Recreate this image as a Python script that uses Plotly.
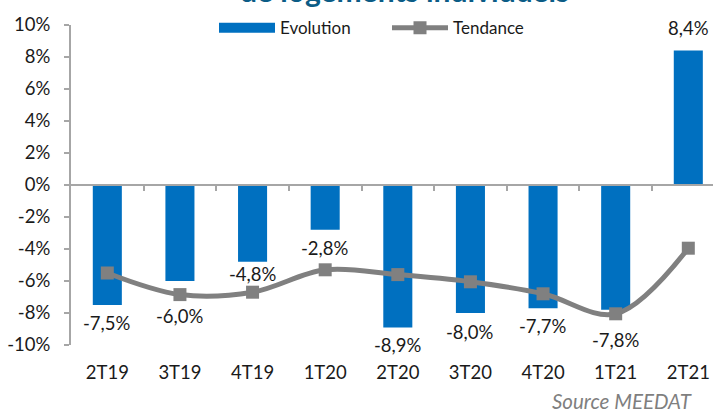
import plotly.graph_objects as go

categories = ["2T19", "3T19", "4T19", "1T20", "2T20", "3T20", "4T20", "1T21", "2T21"]
evolution = [-7.5, -6.0, -4.8, -2.8, -8.9, -8.0, -7.7, -7.8, 8.4]
tendance = [-5.5, -6.85, -6.7, -5.3, -5.6, -6.05, -6.8, -8.05, -3.95]
y_ticks = [-10, -8, -6, -4, -2, 0, 2, 4, 6, 8, 10]
title_text = "de logements individuels"
source_text = "Source MEEDAT"

# pixel distance between bar end and centre of its value label
label_offsets = [18, 35, 12, 18, 18, 19, 18, 30, 23]

BLUE = "#0070C0"
GREY = "#808080"
AXIS = "#A6A6A6"
TXT = "#1a1a1a"
FONT = "Lato"
FS = 18.5

labels = [f"{v:.1f}".replace(".", ",") + "%" for v in evolution]
xs = list(range(len(categories)))

fig = go.Figure()
fig.add_trace(go.Bar(
    x=xs, y=evolution, name="Evolution", showlegend=False,
    marker=dict(color=BLUE, line=dict(width=0)),
    width=0.4, hoverinfo="skip",
))
# legend entry for the bars (wide rectangle like the original)
fig.add_trace(go.Scatter(
    x=[None], y=[None], name="Evolution", mode="lines",
    line=dict(color=BLUE, width=11),
))
fig.add_trace(go.Scatter(
    x=xs, y=tendance, name="Tendance",
    mode="lines+markers",
    line=dict(color=GREY, width=5, shape="spline", smoothing=1),
    marker=dict(symbol="square", size=13, color=GREY),
))
fig.add_trace(go.Scatter(x=[], y=[], xaxis="x2", showlegend=False, hoverinfo="skip"))

annotations = []
for i, (v, lab, off) in enumerate(zip(evolution, labels, label_offsets)):
    annotations.append(dict(
        x=i, y=v, xref="x", yref="y", text=lab, showarrow=False,
        xanchor="center", yanchor="middle", yshift=off if v >= 0 else -off,
        font=dict(size=FS, color=TXT, family=FONT),
    ))
annotations += [
    dict(text=f"<b>{title_text}</b>", xref="paper", yref="paper",
         x=(404 - 71) / 642, y=1.047, xanchor="center", yanchor="bottom",
         showarrow=False, font=dict(size=30, color="#0B5C86", family=FONT)),
    dict(text=f"<i>{source_text}</i>", xref="paper", yref="paper",
         x=(694 - 71) / 642, y=-(401 - 345) / 320, xanchor="right", yanchor="middle",
         showarrow=False, font=dict(size=20.5, color="#7F7F7F", family=FONT)),
]

xr = [-0.5, 8.34]
fig.update_layout(
    width=713, height=412,
    margin=dict(l=71, r=0, t=25, b=67, autoexpand=False),
    paper_bgcolor="white", plot_bgcolor="white",
    font=dict(family=FONT, size=FS, color=TXT),
    showlegend=True,
    legend=dict(orientation="h", x=(214 - 71) / 642, xanchor="left", y=0.99, yanchor="middle",
                bgcolor="rgba(0,0,0,0)", font=dict(size=17, color=TXT),
                itemwidth=56, traceorder="normal", entrywidth=102),
    xaxis=dict(
        range=xr, tickmode="array", tickvals=xs,
        ticktext=categories, showline=False, showgrid=False, zeroline=False,
        ticks="", tickfont=dict(size=FS, color=TXT), automargin=False,
        ticklabelstandoff=14,
    ),
    xaxis2=dict(
        overlaying="x", anchor="free", position=0.5, range=xr,
        showline=True, linecolor=AXIS, linewidth=2,
        ticks="outside", ticklen=5, tickwidth=1.5, tickcolor=AXIS,
        tickmode="array", tickvals=[i + 0.5 for i in range(len(categories) - 1)],
        showticklabels=False, showgrid=False, zeroline=False, automargin=False,
    ),
    yaxis=dict(
        range=[-10, 10], tickmode="array", tickvals=y_ticks,
        ticktext=[f"{t}%" for t in y_ticks],
        showline=True, linecolor=AXIS, linewidth=2,
        ticks="outside", ticklen=5, tickwidth=1.5, tickcolor=AXIS,
        showgrid=False, zeroline=False, ticklabelstandoff=10,
        tickfont=dict(size=FS, color=TXT), automargin=False,
    ),
    annotations=annotations,
)

fig.write_html("out.html", config={"displayModeBar": False},
               post_script="document.body.style.margin='0';")
